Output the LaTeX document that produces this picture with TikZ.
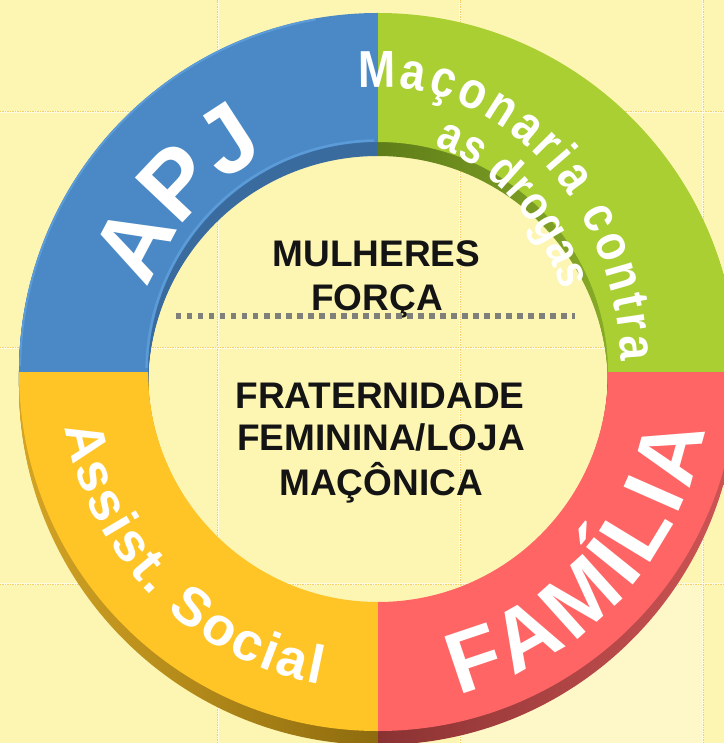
\documentclass[tikz,border=0pt]{standalone}
\usepackage{fontspec}
\setmainfont{Liberation Sans}
\newfontfamily\ringfont{Liberation Sans}[FakeStretch=0.86]
\usetikzlibrary{decorations.text}

\definecolor{bgc}{HTML}{FDF5B2}
\definecolor{bglight}{HTML}{FEF8C8}
\definecolor{gridc}{HTML}{F5D06A}
\definecolor{gridw}{HTML}{FFFBE0}
\definecolor{blueF}{HTML}{4A89C5}
\definecolor{blueRim}{HTML}{5A9BD8}
\definecolor{greenF}{HTML}{A9CF33}
\definecolor{yellowF}{HTML}{FFC425}
\definecolor{redF}{HTML}{FF6565}
\definecolor{blueW}{HTML}{3A6B9E}
\definecolor{greenWa}{HTML}{5E7D19}
\definecolor{greenWb}{HTML}{A0C430}
\definecolor{yellowWa}{HTML}{D4A424}
\definecolor{yellowWb}{HTML}{8E6C0E}
\definecolor{redWa}{HTML}{8A3232}
\definecolor{redWb}{HTML}{D05555}
\definecolor{sepc}{HTML}{80807A}
\definecolor{inkc}{HTML}{141414}

\newcommand{\secpath}[2]{(#1:359bp) arc[start angle=#1,end angle=#2,radius=359bp] -- (#2:230bp) arc[start angle=#2,end angle=#1,radius=230bp] -- cycle}

\tikzset{
  gridbase/.style={gridw, line width=2.6bp},
  gridline/.style={gridc, line width=1bp, dash pattern=on 1.5bp off 1bp},
  centertext/.style={font=\fontsize{37bp}{43bp}\selectfont\bfseries, text=inkc, inner sep=0pt, anchor=base},
  sepline/.style={sepc, line width=5.5bp, dash pattern=on 5.5bp off 5.5bp},
}

\begin{document}
\begin{tikzpicture}[x=1bp,y=1bp]
\useasboundingbox (-378,-371) rectangle (346,372);
\clip (-378,-371) rectangle (346,372);
\fill[bgc] (-378,-371) rectangle (346,372);
\fill[bglight] (82,-212) rectangle (325,-371);

% background grid
\foreach \gx in {-160,82,325} {\draw[gridbase] (\gx,-371) -- (\gx,372); \draw[gridline] (\gx,-371) -- (\gx,372);}
\foreach \gy in {260,24,-212} {\draw[gridbase] (-378,\gy) -- (346,\gy); \draw[gridline] (-378,\gy) -- (346,\gy);}

% 3D walls of the ring
\foreach \s in {1,...,14}{
  \fill[blueW, yshift=-\s bp] \secpath{90}{180};
  \shade[left color=greenWa, right color=greenWb, yshift=-\s bp] \secpath{0}{90};
  \shade[left color=yellowWa, right color=yellowWb, yshift=-\s bp] \secpath{180}{270};
  \shade[left color=redWa, right color=redWb, yshift=-\s bp] \secpath{270}{360};
}

% top faces
\fill[blueF] \secpath{90}{180};
\draw[blueRim, line width=2.5bp] (91:231.5bp) arc[start angle=91, end angle=179, radius=231.5bp];
\draw[blueRim, line width=2bp] (100:358bp) arc[start angle=100, end angle=179, radius=358bp];
\fill[greenF] \secpath{0}{90};
\fill[yellowF] \secpath{180}{270};
\fill[redF] \secpath{270}{360};

% ring labels
\path[decorate, decoration={text along path, text align=center,
  text={|\fontsize{95bp}{95bp}\bfseries\color{white}|APJ}}]
  (168.5:244bp) arc[start angle=168.5, end angle=108.5, radius=244bp];

\path[decorate, decoration={text along path, text align=fit to path,
  text={|\ringfont\fontsize{52bp}{52bp}\bfseries\color{white}|Maçonaria contra}}]
  ({243*cos(94.7)},{285*sin(94.7)}) arc[start angle=94.7, end angle=2.1, x radius=243bp, y radius=285bp];

\path[decorate, decoration={text along path, text align=fit to path,
  text={|\ringfont\fontsize{48bp}{48bp}\bfseries\color{white}|as drogas}}]
  ({196*cos(73.3)},{236*sin(73.3)}) arc[start angle=73.3, end angle=20.3, x radius=196bp, y radius=236bp];

\path[decorate, decoration={text along path, text align=fit to path,
  text={|\fontsize{54bp}{54bp}\bfseries\color{white}|Assist. Social}}]
  (190:318bp) arc[start angle=190, end angle=259.5, radius=318bp];

\path[decorate, decoration={text along path, text align=fit to path,
  text={|\fontsize{87bp}{87bp}\bfseries\color{white}|FAMÍLIA}}]
  (-76:332bp) arc[start angle=-76, end angle=-10, radius=332bp];

% centre texts
\node[centertext] (mul) at (-1.5,105) {MULHERES};
\node[centertext] (forca) at (-1,61) {FORÇA};
\coordinate (sepL) at (-202,56);
\coordinate (sepR) at (197,56);
\draw[sepline] (sepL) -- (sepR);
\node[centertext] (frat) at (2,-36) {FRATERNIDADE};
\node[centertext] (fem) at (3,-78) {FEMININA/LOJA};
\node[centertext] (mac) at (3,-123) {MAÇÔNICA};
\end{tikzpicture}
\end{document}
